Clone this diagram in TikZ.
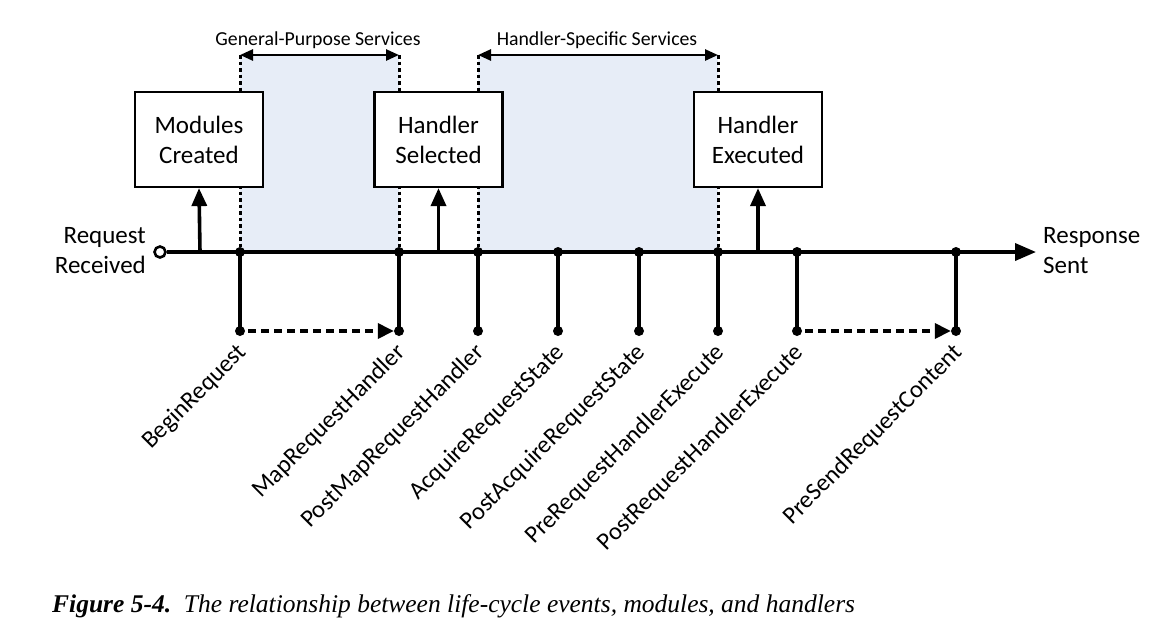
\documentclass[tikz,border=0pt]{standalone}
\usepackage{fontspec}
\setmainfont{Carlito}
\newfontfamily\capfont{Liberation Serif}
\usetikzlibrary{arrows.meta}
\definecolor{svcblue}{RGB}{231,237,247}
\begin{document}
\begin{tikzpicture}[x=1pt,y=-1pt,
  box/.style={draw, line width=2.2pt, fill=white, minimum width=128pt, minimum height=95pt,
    align=center, inner sep=0pt, font=\fontsize{25}{30}\selectfont},
  evdot/.style={circle, fill=black, inner sep=0pt, minimum size=10pt},
  startdot/.style={circle, draw, fill=white, line width=2.6pt, inner sep=0pt, minimum size=11pt},
  evlabel/.style={rotate=45, anchor=east, inner sep=0pt, font=\fontsize{24.5}{26}\selectfont},
  endlabel/.style={align=left, anchor=west, inner sep=0pt, font=\fontsize{25}{30}\selectfont},
  svclabel/.style={inner sep=0pt, font=\fontsize{19.8}{22}\selectfont},
  mainline/.style={line width=3.6pt},
  tick/.style={line width=3.6pt},
  dotline/.style={line width=3pt, dash pattern=on 3.5pt off 3pt},
  svcarrow/.style={line width=2.6pt, {Triangle[length=13pt,width=11pt]}-{Triangle[length=13pt,width=11pt]}},
  uparrow/.style={line width=3.6pt, -{Triangle[length=18pt,width=15pt]}},
  flowarrow/.style={line width=3.6pt, dash pattern=on 8pt off 5pt, -{Triangle[length=16pt,width=15pt]}}
]
\useasboundingbox (0,0) rectangle (1174,641);

% shaded regions
\fill[svcblue] (240,55) rectangle (399,252);
\fill[svcblue] (478,55) rectangle (718,252);

% coordinates on the main line and top
\foreach \n/\x in {a/240,b/399,c/478,d/558,e/639,f/718,g/797,h/956}{
  \coordinate (t\n) at (\x,252);
  \coordinate (l\n) at (\x,331);
}
\coordinate (ga) at (240,55);
\coordinate (gb) at (399,55);
\coordinate (hc) at (478,55);
\coordinate (hf) at (718,55);

% dotted service boundaries
\draw[dotline] (ga) -- (ta);
\draw[dotline] (gb) -- (tb);
\draw[dotline] (hc) -- (tc);
\draw[dotline] (hf) -- (tf);

% service arrows
\draw[svcarrow] (ga) -- (gb);
\draw[svcarrow] (hc) -- (hf);
\node[svclabel] (gps) at (318,40) {General-Purpose Services};
\node[svclabel] (hss) at (597,40) {Handler-Specific Services};

% boxes
\node[box] (mc) at (199,139.5) {Modules\\Created};
\node[box] (hs) at (438.5,139.5) {Handler\\Selected};
\node[box] (he) at (758,139.5) {Handler\\Executed};

% main line
\node[startdot] (start) at (160,252) {};
\coordinate (finish) at (1036,252);
\draw[mainline, -{Triangle[length=21pt,width=17pt]}] (start) -- (finish);
\node[endlabel, anchor=east, align=right] (rr) at (146,251) {Request\\Received};
\node[endlabel] (rs) at (1043,251) {Response\\Sent};

% up arrows to boxes
\coordinate (ua) at (200,252);
\coordinate (ub) at (438.5,252);
\coordinate (uc) at (758,252);
\draw[uparrow] (ua) -- (mc.south);
\draw[uparrow] (ub) -- (hs.south);
\draw[uparrow] (uc) -- (he.south);

% event ticks
\foreach \n in {a,b,c,d,e,f,g,h}{
  \draw[tick] (t\n) -- (l\n);
  \node[evdot] (td\n) at (t\n) {};
  \node[evdot] (ld\n) at (l\n) {};
}

% dashed flow arrows
\draw[flowarrow] ([xshift=8pt]lda.center) -- (ldb);
\draw[flowarrow] ([xshift=8pt]ldg.center) -- (ldh);

% event labels
\node[evlabel] (ea) at ([xshift=3pt,yshift=-18pt]lda) {BeginRequest};
\node[evlabel] (eb) at ([xshift=3pt,yshift=-18pt]ldb) {MapRequestHandler};
\node[evlabel] (ec) at ([xshift=3pt,yshift=-18pt]ldc) {PostMapRequestHandler};
\node[evlabel] (ed) at ([xshift=3pt,yshift=-18pt]ldd) {AcquireRequestState};
\node[evlabel] (ee) at ([xshift=3pt,yshift=-18pt]lde) {PostAcquireRequestState};
\node[evlabel] (ef) at ([xshift=3pt,yshift=-18pt]ldf) {PreRequestHandlerExecute};
\node[evlabel] (eg) at ([xshift=3pt,yshift=-18pt]ldg) {PostRequestHandlerExecute};
\node[evlabel] (eh) at ([xshift=3pt,yshift=-18pt]ldh) {PreSendRequestContent};

% caption
\node[anchor=base west, inner sep=0pt, font=\capfont\fontsize{25.5}{28}\selectfont] (cap) at (52,612)
  {\textbf{\textit{Figure 5-4.}}\hspace{0.5em}\textit{The relationship between life-cycle events, modules, and handlers}};
\end{tikzpicture}
\end{document}
